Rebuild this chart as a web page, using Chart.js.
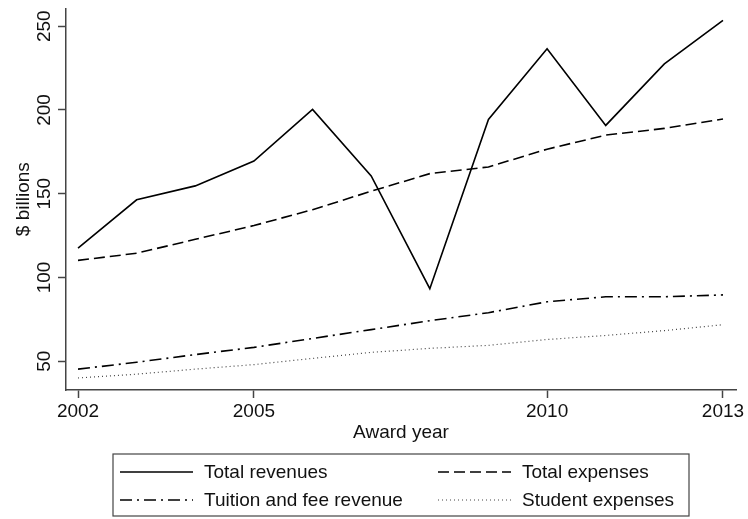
<!DOCTYPE html>
<html>
<head>
<meta charset="utf-8">
<script src="https://cdn.jsdelivr.net/npm/chart.js@4.4.0/dist/chart.umd.min.js"></script>
<style>
  html, body { margin: 0; padding: 0; background: #fff; }
  #wrap { width: 748px; height: 519px; position: relative; }
</style>
</head>
<body>
<div id="wrap"><canvas id="chart" width="748" height="519"></canvas></div>
<script>
// award years and series values ($ billions)
const years = [2002, 2003, 2004, 2005, 2006, 2007, 2008, 2009, 2010, 2011, 2012, 2013];
const totalRevenues = [117.5, 146.4, 154.7, 169.5, 200.3, 160.6, 93.3, 194.4, 236.6, 190.8, 227.5, 253.5];
const totalExpenses = [110.2, 114.5, 122.8, 131.0, 140.5, 151.5, 162.0, 166.0, 176.6, 185.0, 189.0, 194.6];
const tuitionRevenue = [45.3, 49.4, 54.0, 58.3, 63.6, 68.9, 74.2, 79.0, 85.5, 88.5, 88.5, 89.6];
const studentExpenses = [40.0, 42.3, 45.3, 48.0, 51.7, 55.3, 57.7, 59.5, 63.0, 65.4, 68.3, 71.8];

const xTicks = [2002, 2005, 2010, 2013];
const yTicks = [50, 100, 150, 200, 250];

const FONT = "'Liberation Sans', Arial, Helvetica, sans-serif";
const axisColor = '#444';

function pts(vals) {
    return years.map((y, i) => ({x: y, y: vals[i]}));
}

const series = [
    {label: 'Total revenues', data: pts(totalRevenues), dash: [], width: 1.6, color: '#000'},
    {label: 'Total expenses', data: pts(totalExpenses), dash: [11, 5], width: 1.6, color: '#000'},
    {label: 'Tuition and fee revenue', data: pts(tuitionRevenue), dash: [12, 5, 2, 5], width: 1.6, color: '#000'},
    {label: 'Student expenses', data: pts(studentExpenses), dash: [1, 3], width: 1.2, color: '#444'}
];

// legend box drawn under the axis title, two columns
const boxLegend = {
    id: 'boxLegend',
    afterDraw(chart) {
        const ctx = chart.ctx;
        const ca = chart.chartArea;
        const cx = (ca.left + ca.right) / 2;
        const left = cx - 288, right = cx + 288, top = 454, bottom = 516;
        ctx.save();
        ctx.strokeStyle = '#444';
        ctx.lineWidth = 1.2;
        ctx.strokeRect(left, top, right - left, bottom - top);
        ctx.font = '19px ' + FONT;
        ctx.textBaseline = 'middle';
        ctx.fillStyle = '#111';
        const cols = [left + 7, left + 325];
        const rows = [top + 18, top + 46];
        chart.data.datasets.forEach((ds, i) => {
            const x = cols[i % 2], y = rows[Math.floor(i / 2)];
            ctx.beginPath();
            ctx.setLineDash(ds.borderDash || []);
            ctx.strokeStyle = ds.borderColor;
            ctx.lineWidth = ds.borderWidth;
            ctx.moveTo(x, y);
            ctx.lineTo(x + 73, y);
            ctx.stroke();
            ctx.setLineDash([]);
            ctx.fillText(ds.label, x + 84, y + 1);
        });
        ctx.restore();
    }
};

new Chart(document.getElementById('chart'), {
    type: 'line',
    data: {
        datasets: series.map(s => ({
            label: s.label,
            data: s.data,
            borderColor: s.color,
            borderWidth: s.width,
            borderDash: s.dash,
            pointRadius: 0,
            fill: false,
            tension: 0
        }))
    },
    options: {
        responsive: false,
        animation: false,
        layout: {padding: {top: 5, right: 12, left: 0, bottom: 74}},
        plugins: {legend: {display: false}, tooltip: {enabled: false}},
        scales: {
            x: {
                type: 'linear',
                min: 2001.795,
                max: 2013.222,
                afterBuildTicks: s => { s.ticks = xTicks.map(v => ({value: v})); },
                afterFit: s => { s.height = 55; },
                grid: {drawOnChartArea: false, drawTicks: true, tickLength: 8, color: axisColor, tickWidth: 1.5},
                border: {display: true, color: axisColor, width: 1.5},
                ticks: {
                    color: '#111', font: {family: FONT, size: 19}, padding: 2,
                    maxRotation: 0, minRotation: 0,
                    callback: v => String(v)
                },
                title: {display: true, text: 'Award year', color: '#111', font: {family: FONT, size: 19}, padding: {top: 0, bottom: 1}}
            },
            y: {
                min: 32.84,
                max: 260.65,
                afterBuildTicks: s => { s.ticks = yTicks.map(v => ({value: v})); },
                afterFit: s => { s.width = 66; },
                grid: {drawOnChartArea: false, drawTicks: true, tickLength: 8, color: axisColor, tickWidth: 1.5},
                border: {display: true, color: axisColor, width: 1.5},
                ticks: {
                    color: '#111', font: {family: FONT, size: 19}, padding: -3,
                    minRotation: 90, maxRotation: 90, crossAlign: 'center',
                    callback: v => String(v)
                },
                title: {display: true, text: '$ billions', color: '#111', font: {family: FONT, size: 19}, padding: {top: 12, bottom: 0}}
            }
        }
    },
    plugins: [boxLegend]
});
</script>
</body>
</html>
